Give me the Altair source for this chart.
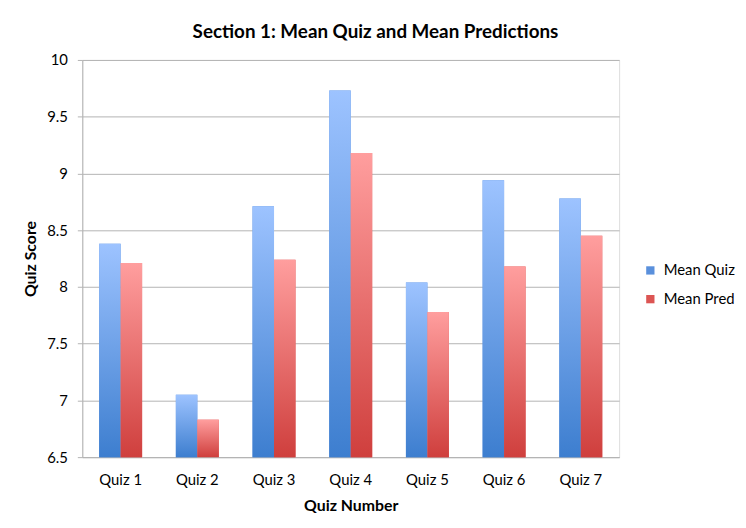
import altair as alt
import pandas as pd

quizzes = ["Quiz 1", "Quiz 2", "Quiz 3", "Quiz 4", "Quiz 5", "Quiz 6", "Quiz 7"]
mean_quiz = [8.38, 7.05, 8.71, 9.73, 8.04, 8.94, 8.78]
mean_pred = [8.21, 6.83, 8.24, 9.18, 7.78, 8.18, 8.45]
series = ["Mean Quiz", "Mean Pred"]
y_ticks = [6.5, 7, 7.5, 8, 8.5, 9, 9.5, 10]
y_min, y_max = 6.5, 10

rows = []
for q, a, b in zip(quizzes, mean_quiz, mean_pred):
    rows.append({"quiz": q, "series": series[0], "value": a})
    rows.append({"quiz": q, "series": series[1], "value": b})
df = pd.DataFrame(rows)

FONT = "Lato"
GRID = "#b3b3b3"

blue_grad = alt.Gradient(
    gradient="linear",
    stops=[alt.GradientStop(color="#9dc3ff", offset=0),
           alt.GradientStop(color="#3d7ecf", offset=1)],
    x1=1, x2=1, y1=0, y2=1,
)
red_grad = alt.Gradient(
    gradient="linear",
    stops=[alt.GradientStop(color="#ff9e9e", offset=0),
           alt.GradientStop(color="#cf3f3d", offset=1)],
    x1=1, x2=1, y1=0, y2=1,
)

x_enc = alt.X(
    "quiz:N",
    sort=quizzes,
    scale=alt.Scale(paddingInner=0.44, paddingOuter=0.22),
    axis=alt.Axis(
        title="Quiz Number", labelAngle=0, ticks=False, domain=True,
        domainColor=GRID, labelFontSize=15, labelPadding=16,
        titleFontSize=16, titleFontWeight="bold", titlePadding=10,
        labelFont=FONT, titleFont=FONT, labelColor="#000", titleColor="#000",
    ),
)
xo_enc = alt.XOffset("series:N", scale=alt.Scale(domain=series, paddingInner=0, paddingOuter=0))
y_enc = alt.Y(
    "value:Q",
    scale=alt.Scale(domain=[y_min, y_max], zero=False, nice=False),
    axis=alt.Axis(
        title="Quiz Score", values=y_ticks, format="~g", tickSize=5,
        tickColor=GRID, domainColor=GRID, gridColor=GRID,
        labelFontSize=15, labelPadding=10, titleFontSize=16,
        titleFontWeight="bold", titlePadding=8,
        labelFont=FONT, titleFont=FONT, labelColor="#000", titleColor="#000",
    ),
)
y2_enc = alt.Y2(datum=y_min)

base = alt.Chart(df).mark_bar().encode(
    x=x_enc, xOffset=xo_enc, y=y_enc, y2=y2_enc,
    color=alt.Color(
        "series:N",
        scale=alt.Scale(domain=series, range=["#5a90dc", "#dc5553"]),
        legend=alt.Legend(
            title=None, orient="none", legendX=566, legendY=205,
            symbolType="square", symbolSize=70, labelFontSize=15,
            labelFont=FONT, labelColor="#000", rowPadding=13,
            labelOffset=6, symbolStrokeWidth=0,
        ),
    ),
)

blue = alt.Chart(df).transform_filter(alt.datum.series == series[0]).mark_bar(
    color=blue_grad
).encode(x=x_enc, xOffset=xo_enc, y=y_enc, y2=y2_enc)
red = alt.Chart(df).transform_filter(alt.datum.series == series[1]).mark_bar(
    color=red_grad
).encode(x=x_enc, xOffset=xo_enc, y=y_enc, y2=y2_enc)

chart = alt.layer(base, blue, red).properties(
    width=542,
    height=401,
    title=alt.TitleParams(
        "Section 1: Mean Quiz and Mean Predictions",
        font=FONT, fontSize=19, fontWeight="bold", color="#000",
        anchor="middle", dx=25, offset=11,
    ),
    autosize=alt.AutoSizeParams(type="none"),
    padding={"left": 75, "top": 50, "right": 120, "bottom": 60},
).configure_view(stroke=None).configure(background="white")

chart.save("out.html", embed_options={"renderer": "svg", "actions": False})
